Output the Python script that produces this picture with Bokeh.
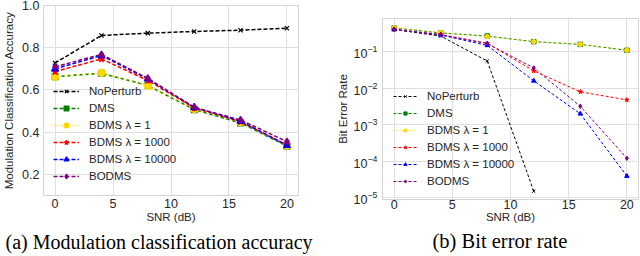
from bokeh.plotting import figure
from bokeh.models import Legend, LegendItem, Title, FixedTicker, Range1d, PrintfTickFormatter
from bokeh.layouts import row
from bokeh.embed import file_html
from bokeh.resources import INLINE

# ---------------- data ----------------
snr = [0, 4, 8, 12, 16, 20]
series_names = ["NoPerturb", "DMS", "BDMS λ = 1", "BDMS λ = 1000", "BDMS λ = 10000", "BODMS"]

acc_noperturb = [0.728, 0.858, 0.869, 0.877, 0.883, 0.892]
acc_dms = [0.663, 0.679, 0.621, 0.507, 0.444, 0.334]
acc_bdms1 = [0.662, 0.681, 0.619, 0.510, 0.447, 0.336]
acc_bdms1000 = [0.687, 0.747, 0.645, 0.515, 0.450, 0.340]
acc_bdms10000 = [0.700, 0.763, 0.652, 0.518, 0.452, 0.337]
acc_bodms = [0.710, 0.768, 0.655, 0.517, 0.458, 0.355]

snr_noperturb_ber = [0, 4, 8, 12]
ber_noperturb = [0.41, 0.27, 0.056, 1.5e-5]
ber_dms = [0.45, 0.33, 0.27, 0.19, 0.16, 0.11]
ber_bdms1 = [0.46, 0.34, 0.26, 0.19, 0.16, 0.11]
ber_bdms1000 = [0.41, 0.30, 0.17, 0.030, 0.008, 0.0048]
ber_bdms10000 = [0.41, 0.29, 0.15, 0.016, 0.002, 3.9e-5]
ber_bodms = [0.41, 0.29, 0.17, 0.036, 0.0032, 1.2e-4]

x_ticks = [0, 5, 10, 15, 20]
acc_ticks = [0.2, 0.4, 0.6, 0.8, 1.0]
ber_ticks = [1e-5, 1e-4, 1e-3, 1e-2, 1e-1]

caption_a = "(a) Modulation classification accuracy"
caption_b = "(b) Bit error rate"

# ---------------- styles ----------------
colors = ["black", "#008000", "#FFD700", "#FF0000", "#0000FF", "#800080"]
markers = ["x", "square", "circle", "star", "triangle", "diamond"]
SANS = "Liberation Sans"
SERIF = "Liberation Serif"
TXT = "#262626"
GRID = "#e0e0e0"


def style(p):
    p.background_fill_color = "white"
    p.border_fill_color = "white"
    p.outline_line_color = "#d4d4d4"
    p.outline_line_width = 1
    for ax in (p.xaxis, p.yaxis):
        ax.axis_line_color = None
        ax.major_tick_line_color = None
        ax.minor_tick_line_color = None
        ax.major_tick_out = 0
        ax.major_tick_in = 0
        ax.minor_tick_out = 0
        ax.minor_tick_in = 0
        ax.major_label_text_font = SANS
        ax.major_label_text_font_size = "12.5px"
        ax.major_label_text_color = TXT
        ax.axis_label_text_font = SANS
        ax.axis_label_text_font_size = "11.5px"
        ax.axis_label_text_font_style = "normal"
        ax.axis_label_text_color = TXT
    p.xgrid.grid_line_color = GRID
    p.ygrid.grid_line_color = GRID
    p.xgrid.grid_line_width = 1
    p.ygrid.grid_line_width = 1


# ---------------- left: accuracy ----------------
p1 = figure(width=320, height=256, x_range=Range1d(-1, 21), y_range=Range1d(0.1, 1.0),
            output_backend="svg", toolbar_location=None, frame_align=False,
            min_border_left=42, min_border_right=22, min_border_top=5, min_border_bottom=61)
style(p1)
p1.xaxis.ticker = FixedTicker(ticks=x_ticks)
p1.yaxis.ticker = FixedTicker(ticks=acc_ticks)
p1.yaxis.formatter = PrintfTickFormatter(format="%.1f")
p1.xaxis.axis_label = "SNR (dB)"
p1.yaxis.axis_label = "Modulation Classification Accuracy"
p1.xaxis.major_label_standoff = 3
p1.xaxis.axis_label_standoff = 0
p1.yaxis.major_label_standoff = 4
p1.yaxis.axis_label_standoff = 4

acc_series = [acc_noperturb, acc_dms, acc_bdms1, acc_bdms1000, acc_bdms10000, acc_bodms]
items1 = []
for name, ys, c, m in zip(series_names, acc_series, colors, markers):
    dash = "1 2" if name == "BDMS λ = 1" else "4 2"
    r_line = p1.line(snr, ys, line_color=c, line_width=1.5, line_dash=dash)
    size = 6 if m in ("x", "square") else 7
    r_pts = p1.scatter(snr, ys, marker=m, size=size, line_color=c, fill_color=c, line_width=1.2)
    items1.append(LegendItem(label=name, renderers=[r_line, r_pts]))

leg1 = Legend(items=items1, location=(10, 11), padding=0, margin=0, spacing=0,
              glyph_width=26, glyph_height=12, label_height=17, label_standoff=10,
              label_text_font=SANS, label_text_font_size="11.5px", label_text_color=TXT,
              background_fill_alpha=0, border_line_color=None)
p1.add_layout(leg1, "center")

p1.add_layout(Title(text=caption_a, align="left", offset=-38, standoff=6,
                    text_font=SERIF, text_font_size="20px", text_font_style="normal",
                    text_color="black"), "below")

# ---------------- right: BER ----------------
p2 = figure(width=320, height=256, x_range=Range1d(-1, 21), y_range=Range1d(8.9e-6, 0.82),
            y_axis_type="log", output_backend="svg", toolbar_location=None, frame_align=False,
            min_border_left=62, min_border_right=2, min_border_top=18, min_border_bottom=57)
style(p2)
p2.xaxis.ticker = FixedTicker(ticks=x_ticks)
p2.yaxis.ticker = FixedTicker(ticks=ber_ticks)
p2.xaxis.axis_label = "SNR (dB)"
p2.yaxis.axis_label = "Bit Error Rate"
p2.xaxis.major_label_standoff = 0
p2.xaxis.axis_label_standoff = -1
p2.yaxis.major_label_standoff = 5
p2.yaxis.axis_label_standoff = 2

ber_x = [snr_noperturb_ber, snr, snr, snr, snr, snr]
ber_series = [ber_noperturb, ber_dms, ber_bdms1, ber_bdms1000, ber_bdms10000, ber_bodms]
items2 = []
for name, xs, ys, c, m in zip(series_names, ber_x, ber_series, colors, markers):
    dash = "1 2" if name == "BDMS λ = 1" else "3 2"
    r_line = p2.line(xs, ys, line_color=c, line_width=1.0, line_dash=dash)
    r_pts = p2.scatter(xs, ys, marker=m, size=4.5, line_color=c, fill_color=c, line_width=1)
    items2.append(LegendItem(label=name, renderers=[r_line, r_pts]))

leg2 = Legend(items=items2, location=(11, 10), padding=0, margin=0, spacing=0,
              glyph_width=24, glyph_height=8, label_height=17, label_standoff=10,
              label_text_font=SANS, label_text_font_size="11.5px", label_text_color=TXT,
              background_fill_alpha=0, border_line_color=None)
p2.add_layout(leg2, "center")

p2.add_layout(Title(text=caption_b, align="left", offset=50, standoff=5,
                    text_font=SERIF, text_font_size="20.5px", text_font_style="normal",
                    text_color="black"), "below")

layout = row(p1, p2)
open("out.html", "w").write(file_html(layout, INLINE))
